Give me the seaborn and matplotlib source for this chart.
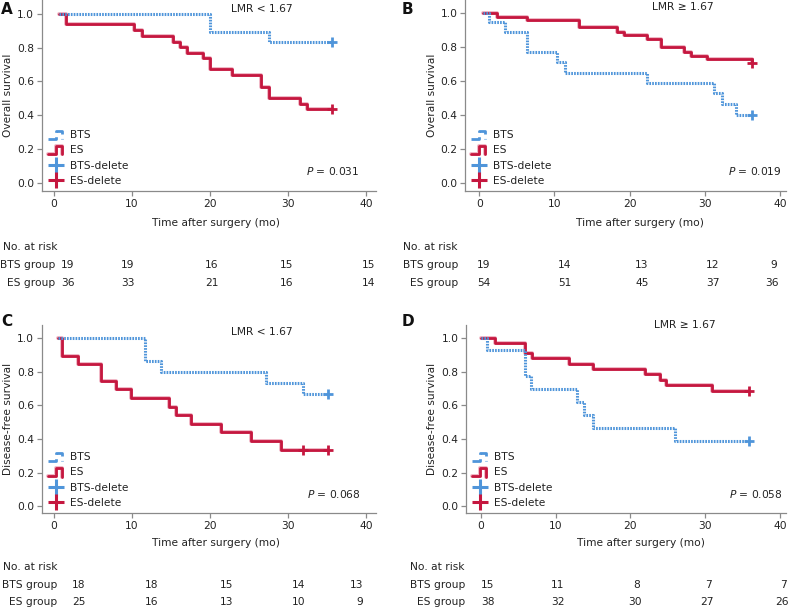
import matplotlib
matplotlib.use("Agg")
import matplotlib.pyplot as plt
import matplotlib.patheffects as pe
import seaborn as sns
import pandas as pd
import numpy as np
from matplotlib.legend_handler import HandlerBase
from matplotlib.lines import Line2D

# ---------------- data ----------------
panel_letters = ["A", "B", "C", "D"]
titles = ["LMR < 1.67", "LMR \u2265 1.67", "LMR < 1.67", "LMR \u2265 1.67"]
ylabels = ["Overall survival", "Overall survival", "Disease-free survival", "Disease-free survival"]
p_values = ["0.031", "0.019", "0.068", "0.058"]

# Panel A
a_bts_t = [0.6, 20.0, 27.6, 35.7]
a_bts_s = [1.0, 0.895, 0.833, 0.833]
a_bts_cens_t = [35.7]
a_bts_cens_s = [0.833]
a_es_t = [0.6, 1.5, 10.3, 11.3, 15.2, 16.1, 17.0, 19.1, 20.0, 22.8, 26.6, 27.6, 31.5, 32.4, 35.7]
a_es_s = [1.0, 0.939, 0.905, 0.871, 0.836, 0.802, 0.770, 0.737, 0.671, 0.638, 0.568, 0.503, 0.469, 0.436, 0.436]
a_es_cens_t = [35.7]
a_es_cens_s = [0.436]

# Panel B
b_bts_t = [0.5, 1.3, 3.4, 6.4, 10.4, 11.4, 22.3, 31.25, 32.3, 34.2, 36.3]
b_bts_s = [1.0, 0.951, 0.888, 0.770, 0.711, 0.650, 0.590, 0.528, 0.465, 0.400, 0.400]
b_bts_cens_t = [36.3]
b_bts_cens_s = [0.400]
b_es_t = [0.5, 2.3, 6.4, 13.3, 18.3, 19.3, 22.3, 24.2, 27.2, 28.2, 30.3, 36.3]
b_es_s = [1.0, 0.981, 0.963, 0.917, 0.892, 0.870, 0.846, 0.800, 0.774, 0.750, 0.728, 0.705]
b_es_cens_t = [36.3]
b_es_cens_s = [0.705]

# Panel C
c_bts_t = [0.5, 11.7, 13.7, 27.2, 31.9, 35.1]
c_bts_s = [1.0, 0.867, 0.800, 0.733, 0.667, 0.667]
c_bts_cens_t = [35.1]
c_bts_cens_s = [0.667]
c_es_t = [0.5, 1.06, 3.1, 6.0, 8.0, 9.9, 14.7, 15.6, 17.6, 21.4, 25.3, 29.1, 35.1]
c_es_s = [1.0, 0.897, 0.846, 0.747, 0.697, 0.644, 0.590, 0.541, 0.491, 0.440, 0.390, 0.337, 0.337]
c_es_cens_t = [32.0, 35.1]
c_es_cens_s = [0.337, 0.337]

# Panel D
d_bts_t = [0.0, 0.75, 5.85, 6.74, 12.86, 13.84, 14.94, 26.0, 35.9]
d_bts_s = [1.0, 0.933, 0.778, 0.700, 0.622, 0.544, 0.467, 0.389, 0.389]
d_bts_cens_t = [35.9]
d_bts_cens_s = [0.389]
d_es_t = [0.0, 1.86, 5.85, 6.83, 11.84, 14.94, 21.9, 23.9, 24.8, 30.9, 35.9]
d_es_s = [1.0, 0.974, 0.913, 0.880, 0.849, 0.818, 0.788, 0.754, 0.720, 0.689, 0.689]
d_es_cens_t = [35.9]
d_es_cens_s = [0.689]

# Numbers at risk
risk_bts = [[19, 19, 16, 15, 15], [19, 14, 13, 12, 9], [18, 18, 15, 14, 13], [15, 11, 8, 7, 7]]
risk_es = [[36, 33, 21, 16, 14], [54, 51, 45, 37, 36], [25, 16, 13, 10, 9], [38, 32, 30, 27, 26]]

x_ticks = [0, 10, 20, 30, 40]
y_ticks = [0.0, 0.2, 0.4, 0.6, 0.8, 1.0]
legend_labels = ["BTS", "ES", "BTS-delete", "ES-delete"]

# ---------------- style / layout ----------------
W, H = 795, 615
sns.set_theme(style="ticks")
plt.rcParams['font.family'] = ['DejaVu Sans']
plt.rcParams['mathtext.fontset'] = 'dejavusans'
FS = 7.7
TXT = "#222222"
SPINE = "#8a8a8a"
BLUE = "#4f95da"
RED = "#c5173f"
HALO = "#f0b6c4"
DOT = (0, (0.55, 0.38))

fig = plt.figure(figsize=(W / 100, H / 100), dpi=100)

def fx(x):
    return x / W

def fy(y):
    return 1 - y / H

# axes boxes in pixels: left, right, top, bottom, xlim, ylim
layout = [
    dict(l=41.7, r=376, t=0, b=191, xlim=(-1.58, 41.3), ylim=(-0.05, 1.083)),
    dict(l=465, r=786, t=0, b=191, xlim=(-1.9, 40.8), ylim=(-0.05, 1.079)),
    dict(l=41.7, r=376, t=325, b=513, xlim=(-1.58, 41.3), ylim=(-0.04, 1.079)),
    dict(l=466, r=786, t=325, b=513, xlim=(-2.0, 40.8), ylim=(-0.04, 1.079)),
]
letter_pos = [(1, 10), (402, 10), (1, 322), (402, 322)]
ylabel_x = [13, 437, 13, 437]
title_pos = [(26.7, 1.03), (27.1, 1.035), (26.6, 1.04), (27.3, 1.08)]
p_pos = [(39.2, 0.069), (40.2, 0.07), (39.3, 0.075), (40.3, 0.075)]

table = [
    dict(time=(216, 223), norisk=(3, 247), grp_r=55, rows=(265, 283), xb=[68, 128, 212, 287, 369], xe=[68, 128, 212, 287, 369]),
    dict(time=(640, 223), norisk=(403, 247), grp_r=458, rows=(265, 283), xb=[484, 565, 642, 713, 774], xe=[484, 565, 642, 713, 772]),
    dict(time=(216, 543), norisk=(3, 567), grp_r=57, rows=(585, 602), xb=[79, 152, 227, 299, 357], xe=[79, 152, 227, 299, 360]),
    dict(time=(641, 543), norisk=(410, 567), grp_r=465, rows=(585, 602), xb=[488, 558, 637, 708, 783], xe=[488, 558, 635, 707, 782]),
]

curves = [
    (a_bts_t, a_bts_s, a_bts_cens_t, a_bts_cens_s, a_es_t, a_es_s, a_es_cens_t, a_es_cens_s),
    (b_bts_t, b_bts_s, b_bts_cens_t, b_bts_cens_s, b_es_t, b_es_s, b_es_cens_t, b_es_cens_s),
    (c_bts_t, c_bts_s, c_bts_cens_t, c_bts_cens_s, c_es_t, c_es_s, c_es_cens_t, c_es_cens_s),
    (d_bts_t, d_bts_s, d_bts_cens_t, d_bts_cens_s, d_es_t, d_es_s, d_es_cens_t, d_es_cens_s),
]

halo = [pe.Stroke(linewidth=2.8, foreground=HALO), pe.Normal()]


class StepHandler(HandlerBase):
    def create_artists(self, legend, orig_handle, xdescent, ydescent, width, height, fontsize, trans):
        xs = np.array([0.0, 0.52, 0.52, 0.9, 0.9]) * width - xdescent
        ys = np.array([-0.1, -0.1, 1.0, 1.0, -0.15]) * height - ydescent
        ln = Line2D(xs, ys, color=orig_handle.get_color(), linestyle=orig_handle.get_linestyle(),
                    linewidth=orig_handle.get_linewidth(), transform=trans)
        if orig_handle.get_path_effects():
            ln.set_path_effects(orig_handle.get_path_effects())
        return [ln]


for i in range(4):
    L = layout[i]
    ax = fig.add_axes([fx(L["l"]), fy(L["b"]), fx(L["r"] - L["l"]), (L["b"] - L["t"]) / H])
    bt, bs, bct, bcs, et, es, ect, ecs = curves[i]

    df_es = pd.DataFrame({"t": et, "s": es})
    df_bts = pd.DataFrame({"t": bt, "s": bs})
    sns.lineplot(data=df_es, x="t", y="s", ax=ax, color=RED, lw=2.0, drawstyle="steps-post",
                 estimator=None, sort=False, zorder=3, path_effects=halo)
    sns.lineplot(data=df_bts, x="t", y="s", ax=ax, color=BLUE, lw=2.2, drawstyle="steps-post",
                 estimator=None, sort=False, zorder=4, linestyle=DOT)
    sns.scatterplot(x=bct, y=bcs, ax=ax, marker="+", s=45, linewidth=2.0, color=BLUE, zorder=5)
    sns.scatterplot(x=ect, y=ecs, ax=ax, marker="+", s=45, linewidth=2.0, color=RED, zorder=5)

    ax.set_xlim(*L["xlim"])
    ax.set_ylim(*L["ylim"])
    ax.set_xticks(x_ticks)
    ax.set_yticks(y_ticks)
    ax.set_yticklabels([f"{v:.1f}" for v in y_ticks])
    ax.set_xlabel("")
    ax.set_ylabel(ylabels[i], fontsize=FS, color=TXT)
    ax.yaxis.set_label_coords((ylabel_x[i] - L["l"]) / (L["r"] - L["l"]), 0.5)
    for sp in ["top", "right"]:
        ax.spines[sp].set_visible(False)
    for sp in ["left", "bottom"]:
        ax.spines[sp].set_color(SPINE)
        ax.spines[sp].set_linewidth(0.9)
    ax.tick_params(axis="both", labelsize=FS, labelcolor=TXT, color=SPINE, length=3.5, width=0.9, pad=2)
    ax.patch.set_alpha(0)

    ax.text(title_pos[i][0], title_pos[i][1], titles[i], fontsize=FS, color=TXT, ha="center", va="center")
    ax.text(p_pos[i][0], p_pos[i][1], r"$\it{P}$ = " + p_values[i], fontsize=FS, color=TXT,
            ha="right", va="center")

    h_bts = Line2D([], [], color=BLUE, lw=2.0, linestyle=DOT)
    h_es = Line2D([], [], color=RED, lw=2.0, path_effects=halo)
    h_bd = Line2D([], [], color=BLUE, marker="+", markersize=11, mew=2.2, linestyle="none")
    h_ed = Line2D([], [], color=RED, marker="+", markersize=11, mew=2.2, linestyle="none")
    leg = ax.legend([h_bts, h_es, h_bd, h_ed], legend_labels, loc="lower left",
                    bbox_to_anchor=(0.018, 0.026), frameon=False, fontsize=FS, borderpad=0,
                    borderaxespad=0, handlelength=1.5, handletextpad=0.6, labelspacing=0.5,
                    handler_map={h_bts: StepHandler(), h_es: StepHandler()})
    for t in leg.get_texts():
        t.set_color(TXT)

    fig.text(fx(letter_pos[i][0]), fy(letter_pos[i][1]), panel_letters[i], fontsize=11,
             fontweight="bold", color="#111111", ha="left", va="center")

    T = table[i]
    fig.text(fx(T["time"][0]), fy(T["time"][1]), "Time after surgery (mo)", fontsize=FS, color=TXT,
             ha="center", va="center")
    fig.text(fx(T["norisk"][0]), fy(T["norisk"][1]), "No. at risk", fontsize=FS, color=TXT,
             ha="left", va="center")
    fig.text(fx(T["grp_r"]), fy(T["rows"][0]), "BTS group", fontsize=FS, color=TXT, ha="right", va="center")
    fig.text(fx(T["grp_r"]), fy(T["rows"][1]), "ES group", fontsize=FS, color=TXT, ha="right", va="center")
    for j in range(5):
        fig.text(fx(T["xb"][j]), fy(T["rows"][0]), str(risk_bts[i][j]), fontsize=FS, color=TXT,
                 ha="center", va="center")
        fig.text(fx(T["xe"][j]), fy(T["rows"][1]), str(risk_es[i][j]), fontsize=FS, color=TXT,
                 ha="center", va="center")

fig.savefig("out.png", dpi=100)
